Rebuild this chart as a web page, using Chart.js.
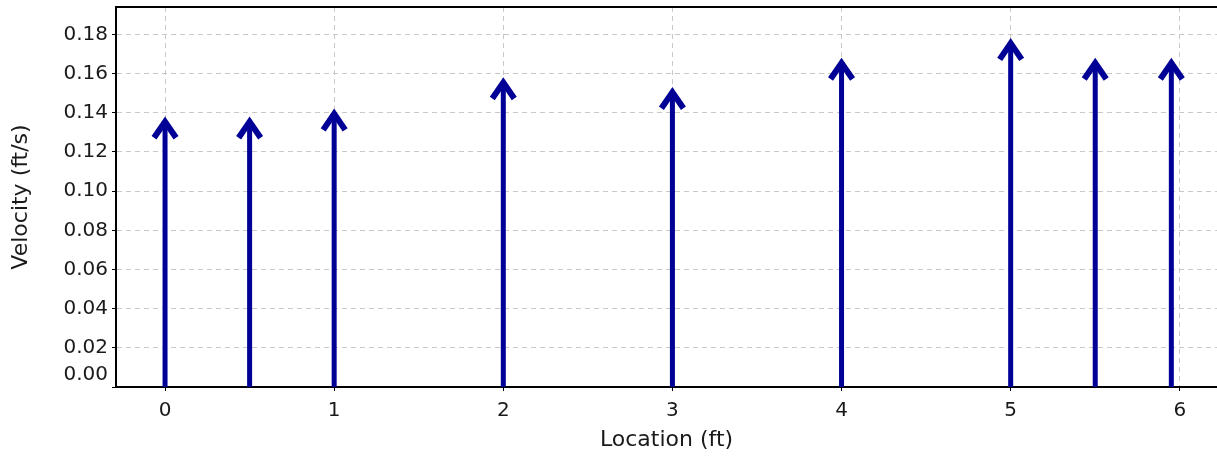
<!DOCTYPE html>
<html>
<head>
<meta charset="utf-8">
<script src="https://cdn.jsdelivr.net/npm/chart.js@4/dist/chart.umd.min.js"></script>
<style>
    html, body { margin: 0; padding: 0; background: #ffffff; }
    #velocity-chart { display: block; }
</style>
</head>
<body>
<canvas id="velocity-chart" width="1217" height="460"></canvas>
<script>
const locations = [0, 0.5, 1, 2, 3, 4, 5, 5.5, 5.95];
const velocities = [0.138, 0.138, 0.142, 0.158, 0.153, 0.168, 0.178, 0.168, 0.168];
const xTicks = [0, 1, 2, 3, 4, 5, 6];
const yTicks = [0, 0.02, 0.04, 0.06, 0.08, 0.10, 0.12, 0.14, 0.16, 0.18];

const arrowColor = '#000096';
const textColor = '#1a1a1a';
const gridColor = '#c8c8c8';

// draws each point as an arrow rising from zero
const arrowPlugin = {
    id: 'arrows',
    afterDatasetsDraw(chart) {
        const ctx = chart.ctx;
        const yScale = chart.scales.y;
        const base = yScale.getPixelForValue(0);
        const meta = chart.getDatasetMeta(0);
        ctx.save();
        ctx.strokeStyle = arrowColor;
        ctx.lineJoin = 'miter';
        ctx.lineCap = 'butt';
        meta.data.forEach((pt) => {
            ctx.lineWidth = 5;
            ctx.beginPath();
            ctx.moveTo(pt.x, base);
            ctx.lineTo(pt.x, pt.y + 5);
            ctx.stroke();
            ctx.lineWidth = 6;
            ctx.beginPath();
            ctx.moveTo(pt.x - 11, pt.y + 21);
            ctx.lineTo(pt.x, pt.y + 5);
            ctx.lineTo(pt.x + 11, pt.y + 21);
            ctx.stroke();
        });
        ctx.restore();
    }
};

// top edge of the plot frame
const framePlugin = {
    id: 'frame',
    afterDraw(chart) {
        const { ctx, chartArea } = chart;
        ctx.save();
        ctx.strokeStyle = '#000000';
        ctx.lineWidth = 2;
        ctx.beginPath();
        ctx.moveTo(chartArea.left, chartArea.top);
        ctx.lineTo(chartArea.right, chartArea.top);
        ctx.stroke();
        ctx.restore();
    }
};

new Chart(document.getElementById('velocity-chart'), {
    type: 'scatter',
    data: {
        datasets: [{
            label: 'Velocity',
            data: locations.map((x, i) => ({ x, y: velocities[i] })),
            pointRadius: 0,
            showLine: false,
        }]
    },
    options: {
        responsive: false,
        animation: false,
        devicePixelRatio: 1,
        layout: { padding: { top: 7, right: 0, left: 0, bottom: 0 } },
        plugins: {
            legend: { display: false },
            tooltip: { enabled: false },
        },
        scales: {
            x: {
                type: 'linear',
                min: -0.29,
                max: 6.22,
                afterBuildTicks(scale) {
                    scale.ticks = xTicks.map((v) => ({ value: v }));
                },
                afterFit(scale) {
                    scale.height = 73;
                    scale.paddingLeft = 0;
                    scale.paddingRight = 0;
                },
                ticks: {
                    color: textColor,
                    font: { family: 'DejaVu Sans', size: 20 },
                    padding: 8,
                    maxRotation: 0,
                    autoSkip: false,
                    callback: (v) => String(v),
                },
                grid: {
                    color: gridColor,
                    lineWidth: 1,
                    tickLength: 4,
                    tickColor: '#000000',
                    tickBorderDash: [],
                },
                border: { display: true, color: '#000000', width: 2, dash: [5, 4] },
                title: {
                    display: true,
                    text: 'Location (ft)',
                    color: textColor,
                    font: { family: 'DejaVu Sans', size: 22 },
                    padding: { top: 0, bottom: 7 },
                },
            },
            y: {
                type: 'linear',
                min: 0,
                max: 0.194,
                afterBuildTicks(scale) {
                    scale.ticks = yTicks.map((v) => ({ value: v }));
                },
                afterFit(scale) {
                    scale.width = 116;
                    scale.paddingTop = 0;
                    scale.paddingBottom = 0;
                },
                ticks: {
                    color: textColor,
                    font: { family: 'DejaVu Sans', size: 20 },
                    padding: 4,
                    autoSkip: false,
                    callback: (v) => (v === 0 ? ['0.00', ''] : Number(v).toFixed(2)),
                },
                grid: {
                    color: gridColor,
                    lineWidth: 1,
                    tickLength: 4,
                    tickColor: '#000000',
                    tickBorderDash: [],
                },
                border: { display: true, color: '#000000', width: 2, dash: [5, 4] },
                title: {
                    display: true,
                    text: 'Velocity (ft/s)',
                    color: textColor,
                    font: { family: 'DejaVu Sans', size: 22 },
                    padding: { top: 8, bottom: 0 },
                },
            },
        },
    },
    plugins: [arrowPlugin, framePlugin],
});
</script>
</body>
</html>
